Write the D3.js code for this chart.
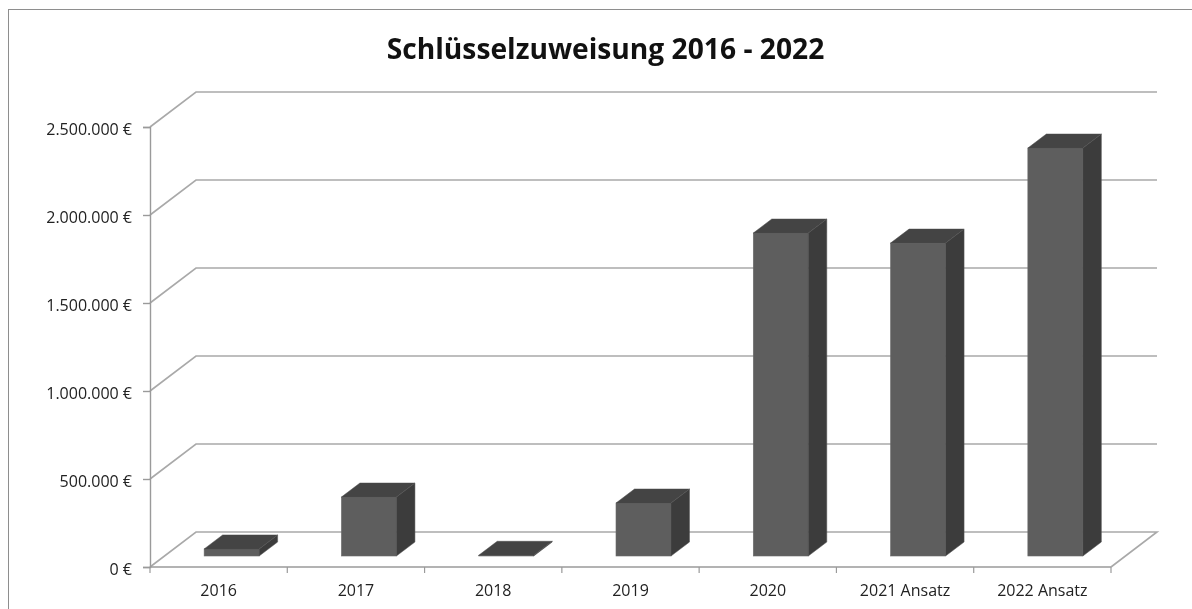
<!DOCTYPE html>
<html><head><meta charset="utf-8">
<script src="https://cdn.jsdelivr.net/npm/d3@7/dist/d3.min.js"></script>
<style>html,body{margin:0;padding:0;background:#fff;overflow:hidden}svg{display:block;filter:blur(0.35px)}text{font-family:"Open Sans",sans-serif}</style>
</head><body><svg id="c" width="1192" height="609"></svg>
<script>
const categories = ["2016","2017","2018","2019","2020","2021 Ansatz","2022 Ansatz"];
const values = [40000,335000,4000,301000,1835000,1778000,2318000];
const yTicks = [0,500000,1000000,1500000,2000000,2500000];
const chartTitle = "Schlüsselzuweisung 2016 - 2022";

const svg = d3.select("#c");
const W = {l:150,r:1111,t:127,b:567,dx:46,dy:-35};
const x = d3.scaleBand().domain(categories).range([W.l,W.r]).paddingInner(0).paddingOuter(0);
const y = d3.scaleLinear().domain([0,2500000]).range([W.b,W.t]);
const de = d3.formatLocale({decimal:",",thousands:".",grouping:[3],currency:["","€"]});
const fmt = v => de.format(",.0f")(v)+" €";
const gridC = "#a9a9a9", axC = "#9a9a9a";

svg.append("rect").attr("x",8.5).attr("y",9.5).attr("width",1190).attr("height",610)
  .attr("fill","#fff").attr("stroke","#8e8e8e").attr("stroke-width",1);

svg.append("text").attr("x",605.5).attr("y",59).attr("text-anchor","middle")
  .attr("font-size",28.2).attr("font-weight",700).attr("fill","#111").text(chartTitle);

const grid = svg.append("g").attr("fill","none").attr("stroke",gridC).attr("stroke-width",1.6);
yTicks.forEach(v=>{
  const p = d3.path();
  p.moveTo(W.l,y(v)); p.lineTo(W.l+W.dx,y(v)+W.dy); p.lineTo(W.r+W.dx,y(v)+W.dy);
  if(v===0){ p.lineTo(W.r,y(v)); }
  grid.append("path").attr("d",p.toString());
});

const yAxis = svg.append("g").attr("transform",`translate(${W.l},0)`)
  .call(d3.axisLeft(y).tickValues(yTicks).tickFormat(fmt).tickSize(7).tickPadding(11));
const xAxis = svg.append("g").attr("transform",`translate(0,${W.b})`)
  .call(d3.axisBottom(x).tickSize(0).tickPadding(18));
[yAxis,xAxis].forEach(a=>{
  a.selectAll("path.domain,line").attr("stroke",axC).attr("stroke-width",1.4);
  a.selectAll("text").attr("font-size",16).attr("fill","#222").style("font-family","'Open Sans',sans-serif");
});
yAxis.selectAll("text").attr("dy","0.45em");
xAxis.selectAll("path.domain").attr("d",`M${W.l},0H${W.r}`);
xAxis.selectAll("g.edge").data(x.domain().concat("end")).enter().append("line")
  .attr("class","edge")
  .attr("x1",d=>d==="end"?W.r:x(d)).attr("x2",d=>d==="end"?W.r:x(d))
  .attr("y1",0).attr("y2",6).attr("stroke",axC).attr("stroke-width",1.2);

// Bars: front face sits inside the floor depth
const barW = 55, off = {x:13,y:-11}, depth = {x:18.5,y:-14};
const bars = svg.append("g").selectAll("g").data(categories.map((c,i)=>({c,v:values[i]}))).enter().append("g");
const L = d => x(d.c)+x.bandwidth()/2-barW/2+off.x;
const B = () => y(0)+off.y;
const T = d => y(d.v)+off.y;
bars.append("rect").attr("x",L).attr("y",T).attr("width",barW).attr("height",d=>B()-T(d))
  .attr("fill","#5e5e5e").attr("stroke","#6a6a6a").attr("stroke-width",.6);
bars.append("path").attr("fill","#444").attr("stroke","#4a4a4a").attr("stroke-width",.5)
  .attr("d",d=>{const p=d3.path(),l=L(d),t=T(d);p.moveTo(l,t);p.lineTo(l+depth.x,t+depth.y);p.lineTo(l+barW+depth.x,t+depth.y);p.lineTo(l+barW,t);p.closePath();return p;});
bars.append("path").attr("fill","#3c3c3c").attr("stroke","#555").attr("stroke-width",.5)
  .attr("d",d=>{const p=d3.path(),r=L(d)+barW,t=T(d),b=B();p.moveTo(r,t);p.lineTo(r+depth.x,t+depth.y);p.lineTo(r+depth.x,b+depth.y);p.lineTo(r,b);p.closePath();return p;});
</script></body></html>
